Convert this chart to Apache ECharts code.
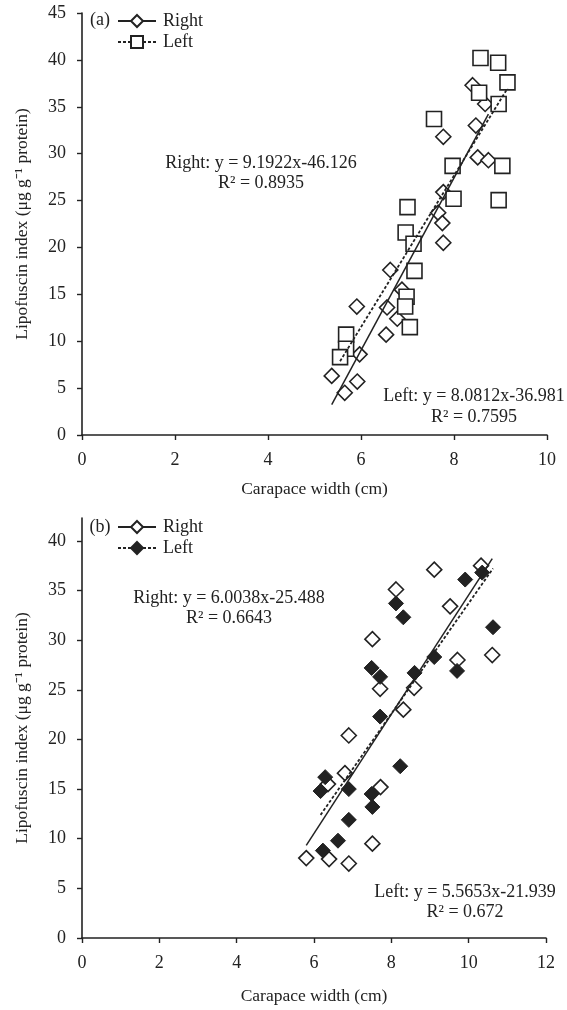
<!DOCTYPE html>
<html>
<head>
<meta charset="utf-8">
<script src="https://cdn.jsdelivr.net/npm/echarts@6/dist/echarts.min.js"></script>
<style>
html,body{margin:0;padding:0;background:#fff;}
#chartA,#chartB{width:567px;height:505px;}
</style>
</head>
<body>
<div id="chartA"></div>
<div id="chartB"></div>
<script>
// ---------- Data (a) ----------
const aRightX = [8.40, 8.67, 8.47, 8.51, 8.74, 7.77, 7.77, 7.66, 7.75, 7.77, 6.63, 5.91, 6.56, 6.88, 6.78, 6.54, 5.97, 5.37, 5.92, 5.65];
const aRightY = [37.3, 35.3, 33.0, 29.6, 29.3, 31.8, 25.9, 23.7, 22.6, 20.5, 17.6, 13.7, 13.6, 15.5, 12.4, 10.7, 8.6, 6.3, 5.7, 4.5];
const aLeftX  = [8.57, 8.95, 9.15, 8.54, 8.96, 7.57, 7.97, 9.04, 7.99, 8.96, 7.00, 6.96, 7.13, 7.15, 6.98, 6.95, 7.05, 5.68, 5.68, 5.55];
const aLeftY  = [40.2, 39.7, 37.6, 36.5, 35.3, 33.7, 28.7, 28.7, 25.2, 25.05, 24.3, 21.6, 20.4, 17.5, 14.75, 13.7, 11.5, 10.7, 9.2, 8.3];
const aRightFit = [9.1922, -46.126];
const aLeftFit  = [8.0812, -36.981];
const aXTicks = [0, 2, 4, 6, 8, 10];
const aYTicks = [0, 5, 10, 15, 20, 25, 30, 35, 40, 45];

// ---------- Data (b) ----------
const bRightX = [9.11, 10.32, 8.12, 9.52, 7.51, 9.71, 10.61, 7.71, 8.59, 8.31, 6.90, 6.80, 6.36, 7.72, 7.51, 5.80, 6.39, 6.90];
const bRightY = [37.1, 37.5, 35.1, 33.4, 30.1, 28.0, 28.5, 25.1, 25.2, 23.0, 20.4, 16.6, 15.5, 15.2, 9.5, 8.05, 7.95, 7.5];
const bLeftX  = [9.91, 10.35, 8.12, 8.31, 10.63, 7.49, 7.71, 9.11, 8.60, 9.70, 7.71, 8.23, 6.29, 6.17, 6.90, 7.49, 7.51, 6.90, 6.62, 6.23];
const bLeftY  = [36.1, 36.8, 33.7, 32.3, 31.3, 27.2, 26.3, 28.3, 26.7, 26.9, 22.3, 17.3, 16.2, 14.8, 15.0, 14.5, 13.2, 11.9, 9.8, 8.8];
const bRightFit = [6.0038, -25.488];
const bLeftFit  = [5.5653, -21.939];
const bXTicks = [0, 2, 4, 6, 8, 10, 12];
const bYTicks = [0, 5, 10, 15, 20, 25, 30, 35, 40];

const FONT = "'Liberation Serif','Times New Roman',serif";
const INK = '#222';
const FS = 18;

function pts(xs, ys) { return xs.map((x, i) => [x, ys[i]]); }
function fitLine(xs, fit) {
  const x0 = Math.min(...xs), x1 = Math.max(...xs);
  return [[x0, fit[0] * x0 + fit[1]], [x1, fit[0] * x1 + fit[1]]];
}

function axisCommon(margin) {
  return {
    axisLine: { show: true, onZero: false, lineStyle: { color: INK, width: 1.6 } },
    axisTick: { show: true, inside: false, length: 5, lineStyle: { color: INK, width: 1.4 } },
    splitLine: { show: false },
    axisLabel: { color: INK, fontFamily: FONT, fontSize: FS, margin: margin },
    nameTextStyle: { color: INK, fontFamily: FONT, fontSize: 17.5 }
  };
}

function build(cfg) {
  const xAxis = Object.assign(axisCommon(16), {
    type: 'value', min: 0, max: cfg.xMax, interval: 2,
    name: 'Carapace width (cm)', nameLocation: 'middle', nameGap: cfg.xNameGap
  });
  xAxis.axisLabel.customValues = cfg.xTicks;
  xAxis.axisTick.customValues = cfg.xTicks;
  const yAxis = Object.assign(axisCommon(16), {
    type: 'value', min: 0, max: cfg.yMax, interval: 5,
    name: 'Lipofuscin index (μg g\u207B\u00B9 protein)', nameLocation: 'middle', nameGap: 51
  });
  yAxis.axisLabel.customValues = cfg.yTicks;
  yAxis.axisTick.customValues = cfg.yTicks;

  const graphics = cfg.texts.map(t => ({
    type: 'text', x: t.x, y: t.y,
    style: { text: t.s, textAlign: 'center', textVerticalAlign: 'middle', fill: INK, font: FS + 'px ' + FONT },
    z: 10
  }));

  return {
    animation: false,
    backgroundColor: '#fff',
    grid: { left: 82, right: cfg.gridRight, top: 13, bottom: cfg.gridBottom, containLabel: false },
    xAxis: xAxis,
    yAxis: yAxis,
    legend: {
      show: true, orient: 'vertical', left: 117, top: cfg.legendTop, padding: 0,
      itemWidth: 38, itemHeight: 15, itemGap: 3, selectedMode: false,
      data: ['Right', 'Left'],
      textStyle: { color: INK, fontFamily: FONT, fontSize: FS, padding: [0, 0, 0, 2] }
    },
    graphic: graphics,
    series: [
      {
        name: 'Right points', type: 'scatter', data: pts(cfg.rx, cfg.ry),
        symbol: 'diamond', symbolSize: 15, silent: true,
        itemStyle: { color: '#fff', borderColor: INK, borderWidth: 1.6, opacity: 1 }
      },
      {
        name: 'Left points', type: 'scatter', data: pts(cfg.lx, cfg.ly),
        symbol: cfg.leftSymbol, symbolSize: cfg.leftSymbolSize, silent: true,
        itemStyle: Object.assign({ opacity: 1 }, cfg.leftItemStyle)
      },
      {
        name: 'Right', type: 'line', data: fitLine(cfg.rx, cfg.rfit),
        symbol: 'diamond', symbolSize: 15, showSymbol: false, silent: true, z: 3,
        itemStyle: { color: '#fff', borderColor: INK, borderWidth: 1.6 },
        lineStyle: { color: INK, width: 1.5, type: 'solid' }
      },
      {
        name: 'Left', type: 'line', data: fitLine(cfg.lx, cfg.lfit),
        symbol: cfg.leftSymbol, symbolSize: cfg.leftSymbolSize, showSymbol: false, silent: true, z: 3,
        itemStyle: cfg.leftItemStyle,
        lineStyle: { color: INK, width: 1.8, type: [3, 2] }
      }
    ]
  };
}

const optA = build({
  xMax: 10, yMax: 45, xTicks: aXTicks, yTicks: aYTicks,
  gridRight: 20, gridBottom: 70, legendTop: 12, xNameGap: 45,
  rx: aRightX, ry: aRightY, lx: aLeftX, ly: aLeftY, rfit: aRightFit, lfit: aLeftFit,
  leftSymbol: 'rect', leftSymbolSize: 15,
  leftItemStyle: { color: '#fff', borderColor: INK, borderWidth: 1.6 },
  texts: [
    { s: '(a)', x: 100, y: 20 },
    { s: 'Right: y = 9.1922x-46.126', x: 261, y: 163 },
    { s: 'R\u00B2 = 0.8935', x: 261, y: 183 },
    { s: 'Left: y = 8.0812x-36.981', x: 474, y: 396 },
    { s: 'R\u00B2 = 0.7595', x: 474, y: 417 }
  ]
});

const optB = build({
  xMax: 12, yMax: 42.3, xTicks: bXTicks, yTicks: bYTicks,
  gridRight: 21, gridBottom: 69, legendTop: 13, xNameGap: 49,
  rx: bRightX, ry: bRightY, lx: bLeftX, ly: bLeftY, rfit: bRightFit, lfit: bLeftFit,
  leftSymbol: 'diamond', leftSymbolSize: 15,
  leftItemStyle: { color: INK, borderColor: INK, borderWidth: 1 },
  texts: [
    { s: '(b)', x: 100, y: 22 },
    { s: 'Right: y = 6.0038x-25.488', x: 229, y: 93 },
    { s: 'R\u00B2 = 0.6643', x: 229, y: 113 },
    { s: 'Left: y = 5.5653x-21.939', x: 465, y: 387 },
    { s: 'R\u00B2 = 0.672', x: 465, y: 407 }
  ]
});

const chartA = echarts.init(document.getElementById('chartA'), null, { renderer: 'canvas' });
chartA.setOption(optA);
const chartB = echarts.init(document.getElementById('chartB'), null, { renderer: 'canvas' });
chartB.setOption(optB);
</script>
</body>
</html>
